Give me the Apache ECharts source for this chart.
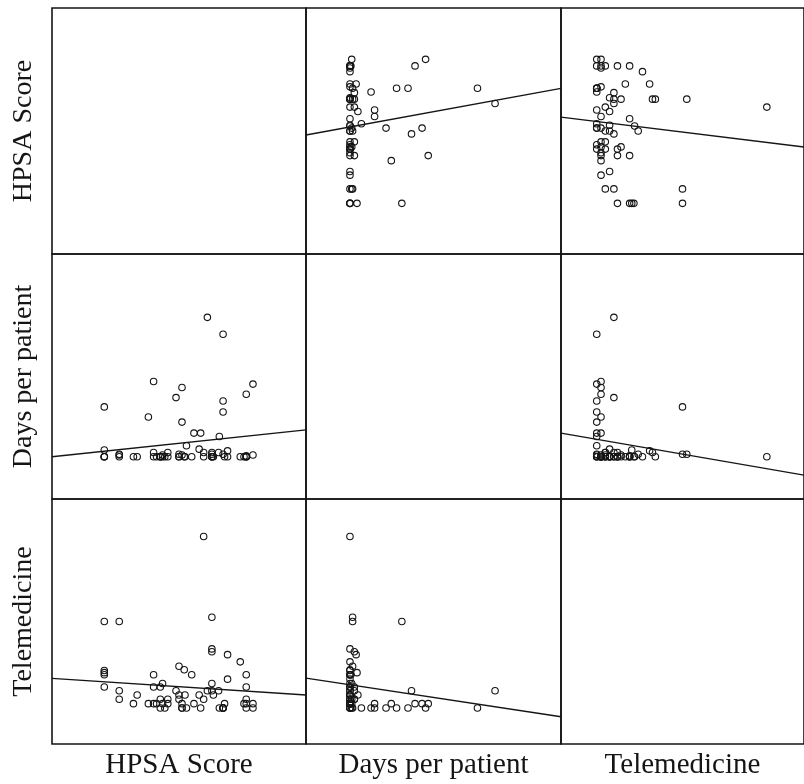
<!DOCTYPE html>
<html>
<head>
<meta charset="utf-8">
<script src="https://cdn.jsdelivr.net/npm/echarts@6/dist/echarts.min.js"></script>
<style>
  html, body { margin: 0; padding: 0; background: #ffffff; }
  #chart { width: 804px; height: 784px; }
</style>
</head>
<body>
<div id="chart"></div>
<script>
// Variables of the scatterplot matrix
const variables = ['HPSA Score', 'Days per patient', 'Telemedicine'];

// One entry per record (same index across the three arrays)
const hpsaScore = [
  18.8, 20.9, 11.6, 15.4, 24.9, 24.0, 14.6, 20.9, 5.0, 20.9,
  10.9, 15.4, 17.0, 17.9, 20.4, 16.0, 17.7, 5.0, 5.0, 5.0,
  5.0, 7.0, 7.0, 7.0, 8.9, 9.4, 11.6, 11.6, 12.0, 12.5,
  12.5, 12.5, 12.8, 12.8, 13.1, 13.5, 13.5, 15.0, 15.0, 15.0,
  15.4, 15.7, 15.8, 16.7, 18.3, 18.3, 19.4, 19.4, 19.4, 19.4,
  19.4, 19.6, 20.3, 20.9, 21.1, 21.5, 21.5, 23.2, 23.7, 24.0,
  24.0, 24.0, 24.0, 24.9
];
const daysPerPatient = [
  16.5, 14.5, 8.9, 8.2, 8.6, 7.4, 7.0, 6.6, 5.9, 5.3,
  4.7, 4.1, 2.8, 2.8, 2.4, 1.3, 0.9, 0.8, 0.0, 0.0,
  0.0, 0.3, 0.0, 0.2, 0.0, 0.0, 0.0, 0.5, 0.0, 0.0,
  0.0, 0.0, 0.2, 0.0, 0.0, 0.5, 0.0, 0.3, 0.0, 0.0,
  0.2, 0.0, 0.0, 0.0, 0.0, 0.5, 0.3, 0.0, 0.5, 0.0,
  0.0, 0.0, 0.5, 0.3, 0.0, 0.7, 0.0, 0.0, 0.0, 0.1,
  0.0, 0.0, 0.0, 0.2
];
const telemedicine = [
  1.2, 0.0, 0.3, 0.3, 0.0, 0.3, 1.2, 0.0, 6.0, 0.0,
  0.3, 0.0, 0.3, 0.0, 0.0, 0.0, 0.9, 2.45, 2.6, 2.3,
  1.45, 6.0, 1.2, 0.6, 0.3, 0.9, 2.3, 1.45, 0.3, 1.45,
  0.6, 0.0, 1.7, 0.3, 0.0, 0.6, 0.3, 2.9, 0.9, 0.6,
  0.0, 2.65, 0.9, 2.3, 11.9, 0.6, 6.3, 4.1, 3.9, 1.7,
  1.2, 0.9, 1.2, 0.0, 0.3, 3.7, 2.0, 3.2, 0.3, 2.3,
  1.45, 0.6, 0.0, 0.3
];
const columns = [hpsaScore, daysPerPatient, telemedicine];

// Linear fit of the row variable on the column variable: y = intercept + slope * x
// indexed [row][column]; diagonal cells have no fit
const fitIntercept = [
  [null, 15.56, 16.31],
  [0.187, null, 2.064],
  [1.988, 1.606, null]
];
const fitSlope = [
  [null, 0.222, -0.2425],
  [0.0935, null, -0.2924],
  [-0.0341, -0.0923, null]
];

// Axis extent used for each variable (no ticks are drawn)
const axisMin = [-2, -5, -2.5];
const axisMax = [32, 24, 14.5];

// Cell geometry in pixels
const cellLeft = [52, 306, 561];
const cellWidth = [254, 255, 254];
const cellTop = [8, 254, 499];
const cellHeight = [246, 245, 245];

const FONT = 'Liberation Serif';
const INK = '#151515';

const grid = [], xAxis = [], yAxis = [], series = [];

for (let r = 0; r < 3; r++) {
  for (let c = 0; c < 3; c++) {
    const k = grid.length;
    grid.push({
      left: cellLeft[c], top: cellTop[r],
      width: cellWidth[c], height: cellHeight[r],
      show: true, borderColor: INK, borderWidth: 1.6,
      backgroundColor: 'transparent'
    });
    xAxis.push({
      gridIndex: k, type: 'value',
      min: axisMin[c], max: axisMax[c],
      name: r === 2 ? variables[c] : '',
      nameLocation: 'middle', nameGap: 7,
      nameTextStyle: { fontFamily: FONT, fontSize: 29, color: INK },
      axisLine: { show: false }, axisTick: { show: false },
      axisLabel: { show: false }, splitLine: { show: false }
    });
    yAxis.push({
      gridIndex: k, type: 'value',
      min: axisMin[r], max: axisMax[r],
      name: c === 0 ? variables[r] : '',
      nameLocation: 'middle', nameGap: 14,
      nameTextStyle: { fontFamily: FONT, fontSize: 28, color: INK },
      axisLine: { show: false }, axisTick: { show: false },
      axisLabel: { show: false }, splitLine: { show: false }
    });

    if (r === c) continue;

    const xs = columns[c], ys = columns[r];
    series.push({
      type: 'scatter', xAxisIndex: k, yAxisIndex: k,
      symbol: 'circle', symbolSize: 6.5,
      itemStyle: { color: 'rgba(255,255,255,0)', borderColor: INK, borderWidth: 1.1, opacity: 1 },
      data: xs.map((x, i) => [x, ys[i]]),
      silent: true
    });

    const a = fitIntercept[r][c], b = fitSlope[r][c];
    series.push({
      type: 'line', xAxisIndex: k, yAxisIndex: k,
      symbol: 'none', clip: true, silent: true,
      lineStyle: { color: INK, width: 1.4 },
      data: [
        [axisMin[c], a + b * axisMin[c]],
        [axisMax[c], a + b * axisMax[c]]
      ]
    });
  }
}

const chart = echarts.init(document.getElementById('chart'), null, { renderer: 'canvas' });
chart.setOption({
  backgroundColor: '#ffffff',
  animation: false,
  grid: grid,
  xAxis: xAxis,
  yAxis: yAxis,
  series: series
});
</script>
</body>
</html>
